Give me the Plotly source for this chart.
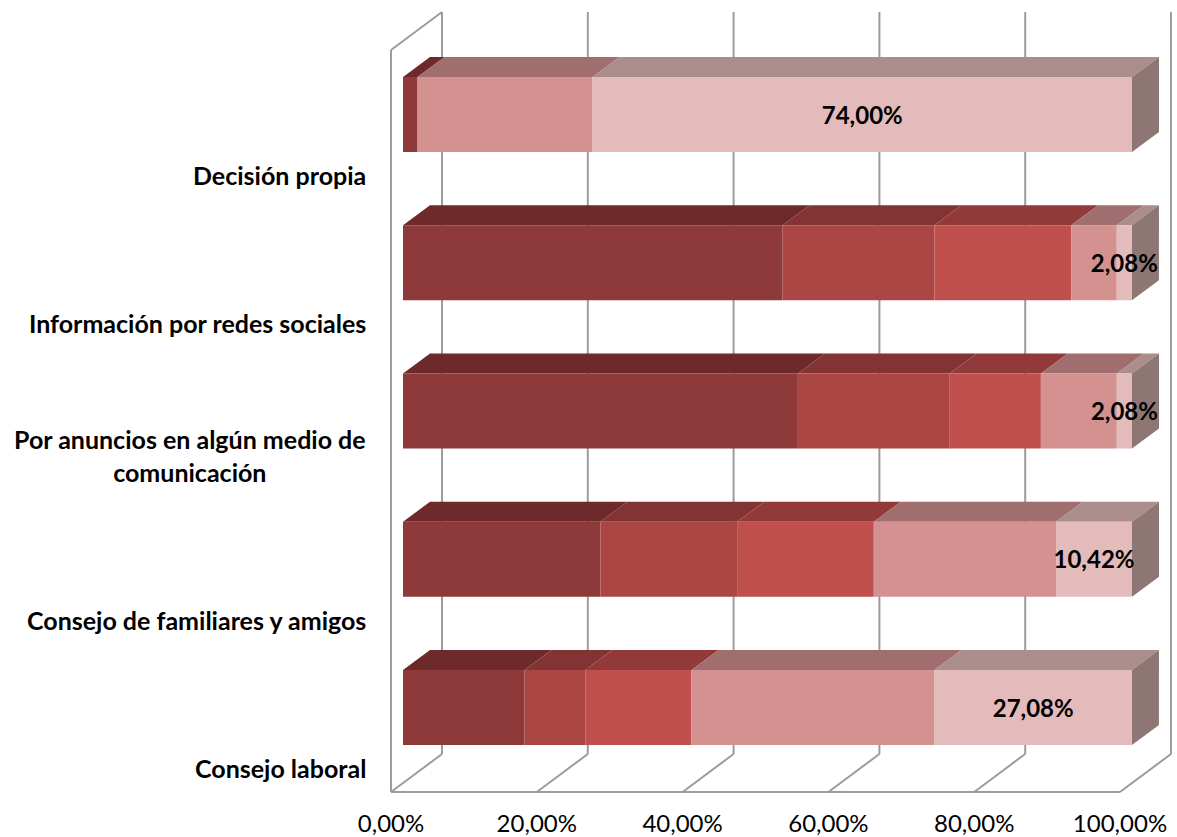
import plotly.graph_objects as go

# ---------------- data ----------------
CATEGORIES = [
    "Consejo laboral",
    "Consejo de familiares y amigos",
    "Por anuncios en algún medio de<br>comunicación",
    "Información por redes sociales",
    "Decisión propia",
]
SERIES_NAMES = ["Serie 1", "Serie 2", "Serie 3", "Serie 4", "Serie 5"]
S1 = [16.67, 27.08, 54.17, 52.08, 2.00]
S2 = [8.33, 18.75, 20.83, 20.83, 0.00]
S3 = [14.58, 18.75, 12.50, 18.75, 0.00]
S4 = [33.33, 25.00, 10.42, 6.25, 24.00]
S5 = [27.08, 10.42, 2.08, 2.08, 74.00]
X_TICKS = [0, 20, 40, 60, 80, 100]
X_TICK_TEXT = [f"{t:.2f}".replace(".", ",") + "%" for t in X_TICKS]

# ---------------- style ----------------
FRONT = ["#8E3A3A", "#AA4644", "#C0504D", "#D39190", "#E4BBBB"]
TOP = ["#6E2A2B", "#843334", "#923A39", "#A06E6E", "#AB8E8B"]
SIDE = "#8E7674"
GRID = "#9C9C9C"
FONT = "Lato"

W, H = 1177, 837
ML, MR, MT, MB = 385, 3, 5, 40
PX_X = 7.29      # pixels per percent
PX_Y = 148.25    # pixels per category step
# 3-D geometry (axis units)
FLOOR_Y = -24 / PX_Y
TOP_Y = (768 - 50) / PX_Y
DEPTH_X = 51 / PX_X
DEPTH_Y = 38 / PX_Y
BAR_X0 = 12 / PX_X
BAR_DX = 27 / PX_X
BAR_DY = 20 / PX_Y
BAR_CENTER = 60.5 / PX_Y
BAR_W = 75 / PX_Y
TEXT_DY = 3 / PX_Y

x_range = [(ML - 391) / PX_X, (W - MR - 391) / PX_X]
y_range = [(768 - (H - MB)) / PX_Y, (768 - MT) / PX_Y]

series = [S1, S2, S3, S4, S5]
n = len(CATEGORIES)
ypos = list(range(n))

fig = go.Figure()
shapes = []


def line(x0, y0, x1, y1):
    return dict(type="line", xref="x", yref="y", x0=x0, y0=y0, x1=x1, y1=y1,
                line=dict(color=GRID, width=2), layer="below")


# walls and floor
shapes.append(line(0, FLOOR_Y, 0, TOP_Y))
shapes.append(line(0, TOP_Y, DEPTH_X, TOP_Y + DEPTH_Y))
shapes.append(line(X_TICKS[0], FLOOR_Y, X_TICKS[-1], FLOOR_Y))
for t in X_TICKS:
    shapes.append(line(t + DEPTH_X, FLOOR_Y + DEPTH_Y, t + DEPTH_X, TOP_Y + DEPTH_Y))
    shapes.append(line(t, FLOOR_Y, t + DEPTH_X, FLOOR_Y + DEPTH_Y))


def poly(pts, color):
    p = "M " + " L ".join(f"{x},{y}" for x, y in pts) + " Z"
    return dict(type="path", xref="x", yref="y", path=p, fillcolor=color,
                line=dict(width=0), layer="below")


cum = [BAR_X0] * n
last_start = [0] * n
for k, vals in enumerate(series):
    base = cum[:]
    fig.add_trace(go.Bar(
        orientation="h", y=ypos, x=vals, base=base, width=BAR_W,
        offset=BAR_CENTER - BAR_W / 2, name=SERIES_NAMES[k],
        marker=dict(color=FRONT[k], line=dict(width=0)),
        showlegend=False, hoverinfo="skip"))
    for i in range(n):
        if vals[i] > 0:
            yt = ypos[i] + BAR_CENTER + BAR_W / 2
            x0, x1 = base[i], base[i] + vals[i]
            shapes.append(poly([(x0, yt), (x1, yt), (x1 + BAR_DX, yt + BAR_DY),
                                (x0 + BAR_DX, yt + BAR_DY)], TOP[k]))
    if k == len(series) - 1:
        last_start = base
    cum = [c + v for c, v in zip(cum, vals)]

# right side faces
for i in range(n):
    yb = ypos[i] + BAR_CENTER - BAR_W / 2
    yt = yb + BAR_W
    xe = cum[i]
    shapes.append(poly([(xe, yb), (xe, yt), (xe + BAR_DX, yt + BAR_DY),
                        (xe + BAR_DX, yb + BAR_DY)], SIDE))

# data labels of last series
fig.add_trace(go.Scatter(
    x=[last_start[i] + S5[i] / 2 for i in range(n)],
    y=[ypos[i] + BAR_CENTER - TEXT_DY for i in range(n)],
    mode="text",
    text=[f"{v:.2f}".replace(".", ",") + "%" for v in S5],
    textposition="middle center",
    textfont=dict(family=FONT, size=24, color="#000000", weight="bold"),
    showlegend=False, hoverinfo="skip", cliponaxis=False))

annotations = []
for i, c in enumerate(CATEGORIES):
    annotations.append(dict(
        xref="paper", x=0, xanchor="right", xshift=-17,
        yref="y", y=ypos[i], yanchor="bottom", yshift=-17,
        text=c, align="center", showarrow=False,
        font=dict(family=FONT, size=25, color="#000000", weight="bold")))

fig.update_layout(
    width=W, height=H, autosize=False,
    margin=dict(l=ML, r=MR, t=MT, b=MB, pad=0, autoexpand=False),
    paper_bgcolor="white", plot_bgcolor="white",
    barmode="overlay",
    shapes=shapes, annotations=annotations,
    xaxis=dict(range=x_range, tickmode="array", tickvals=X_TICKS, ticktext=X_TICK_TEXT,
               showgrid=False, zeroline=False, showline=False, ticks="",
               automargin=False, ticklabelstandoff=10, ticklabeloverflow="allow",
               tickfont=dict(family=FONT, size=24, color="#000000")),
    yaxis=dict(range=y_range, showgrid=False, zeroline=False, showline=False,
               automargin=False, showticklabels=False, ticks=""),
)

fig.write_html("out.html", post_script="document.body.style.margin='0';",
               config={"displayModeBar": False})
